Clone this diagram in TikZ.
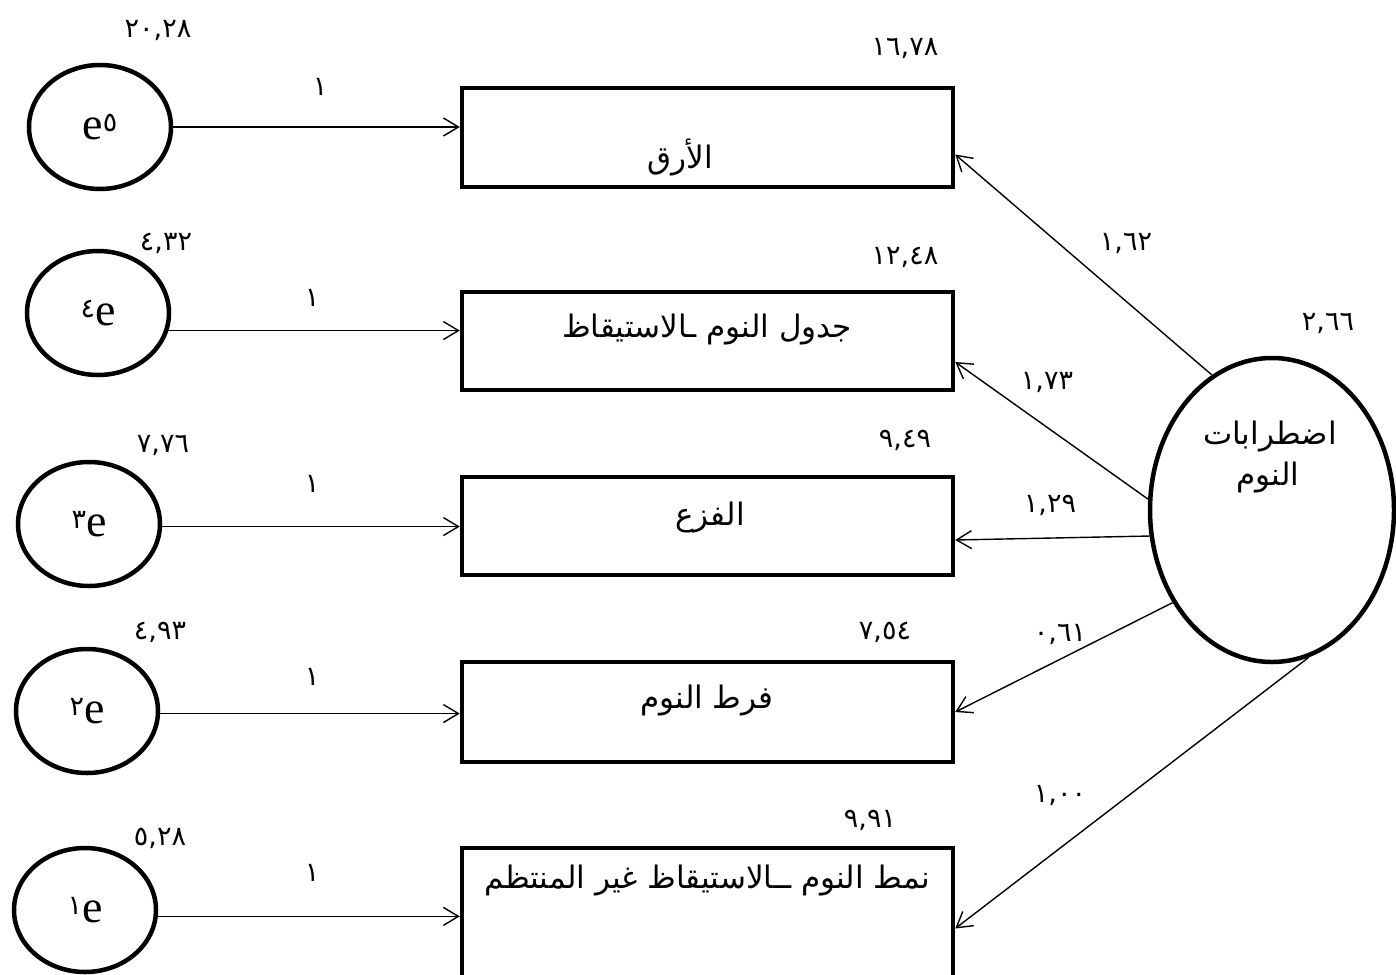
\documentclass[tikz,border=0pt]{standalone}
\usepackage{fontspec}
\setmainfont{Liberation Serif}
\newfontfamily\arabicfont[Script=Arabic]{DejaVu Sans}
\TeXXeTstate=1
\usetikzlibrary{shapes.geometric,arrows.meta}
% right-to-left Arabic text
\newcommand\rtltext[1]{{\arabicfont\beginR #1\endR}}
% small Arabic-Indic digit attached to an error name
\newcommand\errdigit[1]{\raisebox{8pt}{\arabicfont\fontsize{27}{30}\selectfont #1}}

\begin{document}
\begin{tikzpicture}[x=1pt,y=-1pt,
  errvar/.style={ellipse,draw,line width=4.5pt,minimum width=142pt,minimum height=124pt,
    inner sep=0pt,font=\fontsize{46}{48}\selectfont},
  measure/.style={rectangle,draw,line width=4.5pt,minimum width=491pt,inner sep=0pt},
  latent/.style={ellipse,draw,line width=4.5pt,minimum width=244pt,minimum height=304pt,inner sep=0pt},
  regline/.style={line width=1.4pt,-{Straight Barb[length=15pt,width=18pt,line width=1.4pt]}},
  num/.style={font=\arabicfont\fontsize{27}{30}\selectfont,inner sep=0pt},
  lbl/.style={font=\fontsize{31}{36}\selectfont,inner sep=0pt},
]
\useasboundingbox (0,0) rectangle (1396,974);

% error terms
\node[errvar] (e5) at (100,127) {e\errdigit{٥}};
\node[errvar] (e4) at (98,313)  {\errdigit{٤}e};
\node[errvar] (e3) at (89,524)  {\errdigit{٣}e};
\node[errvar] (e2) at (87,711)  {\errdigit{٢}e};
\node[errvar] (e1) at (85,910)  {\errdigit{١}e};

% observed indicators
\node[measure,minimum height=99pt]  (b1) at (707.5,137.5) {};
\node[measure,minimum height=98pt]  (b2) at (707.5,341) {};
\node[measure,minimum height=98pt]  (b3) at (707.5,526) {};
\node[measure,minimum height=100pt] (b4) at (707.5,712) {};
\node[measure,minimum height=137pt] (b5) at (707.5,916.5) {};

\node[lbl] (t1) at (680,157) {\rtltext{الأرق}};
\node[lbl] (t2) at (707,330) {\rtltext{جدول النوم ـالاستيقاظ}};
\node[lbl] (t3) at (710,517) {\rtltext{الفزع}};
\node[lbl] (t4) at (707,700) {\rtltext{فرط النوم}};
\node[lbl] (t5) at (707,880) {\rtltext{نمط النوم ــالاستيقاظ غير المنتظم}};

% latent factor
\node[latent] (L) at (1272,510) {};
\node[lbl] (Lt1) at (1270,437) {\rtltext{اضطرابات}};
\node[lbl] (Lt2) at (1268,478) {\rtltext{النوم}};

% error paths
\draw[regline] (e5.east) -- (e5.east -| b1.west);
\draw[regline] (e4.-14) -- (e4.-14 -| b2.west);
\draw[regline] (e3.-2) -- (e3.-2 -| b3.west);
\draw[regline] (e2.-2) -- (e2.-2 -| b4.west);
\draw[regline] (e1.-5) -- (e1.-5 -| b5.west);

% factor loadings
\draw[regline] (L.114.6) -- ([yshift=-17pt]b1.east);
\draw[regline] (L.175.4) -- ([yshift=-21pt]b2.east);
\draw[regline] (L.192.9) -- ([yshift=-14pt]b3.east);
\draw[regline] (L.223.5) -- (b4.east);
\draw[regline] (L.284) -- ([yshift=-12pt]b5.east);

% error variances
\node[num] (v5) at (158,30)  {٢٠,٢٨};
\node[num] (v4) at (166,243) {٤,٣٢};
\node[num] (v3) at (163,445) {٧,٧٦};
\node[num] (v2) at (160,632) {٤,٩٣};
\node[num] (v1) at (160,838) {٥,٢٨};

% intercepts of indicators
\node[num] (m1) at (905,48)  {١٦,٧٨};
\node[num] (m2) at (905,257) {١٢,٤٨};
\node[num] (m3) at (905,440) {٩,٤٩};
\node[num] (m4) at (885,632) {٧,٥٤};
\node[num] (m5) at (870,820) {٩,٩١};

% factor variance
\node[num] (vL) at (1328,323) {٢,٦٦};

% fixed error weights
\node[num] (w5) at (320,87)  {١};
\node[num] (w4) at (312,298) {١};
\node[num] (w3) at (312,484) {١};
\node[num] (w2) at (312,677) {١};
\node[num] (w1) at (312,873) {١};

% loading estimates
\node[num] (l1) at (1126,243) {١,٦٢};
\node[num] (l2) at (1047,382) {١,٧٣};
\node[num] (l3) at (1050,505) {١,٢٩};
\node[num] (l4) at (1060,634) {٠,٦١};
\node[num] (l5) at (1060,795) {١,٠٠};
\end{tikzpicture}
\end{document}
